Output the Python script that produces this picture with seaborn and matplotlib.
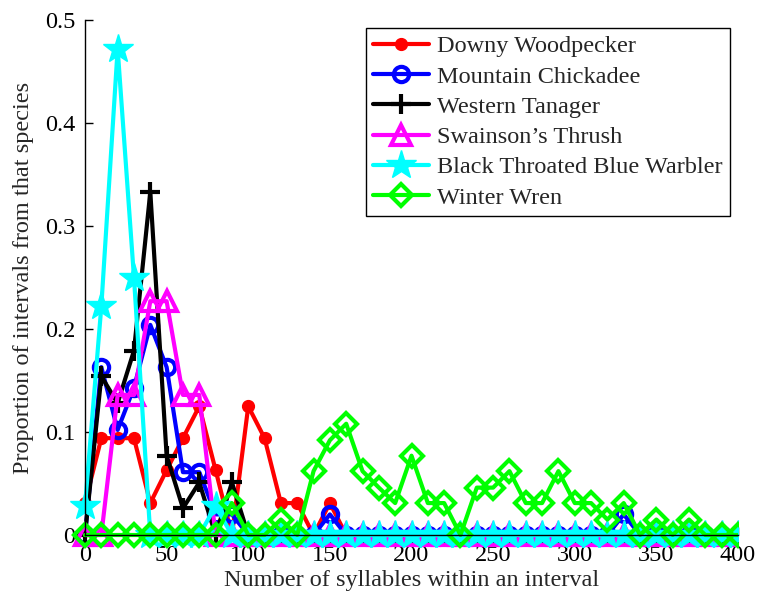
import numpy as np
import pandas as pd
import matplotlib
matplotlib.use("Agg")
import matplotlib.pyplot as plt
import seaborn as sns
from matplotlib.transforms import Bbox, TransformedBbox

# Number of syllables within an interval (bin starts)
syllables = list(range(0, 420, 10))

downy_woodpecker = [0.031, 0.094, 0.094, 0.094, 0.031, 0.063, 0.094, 0.125, 0.063, 0.000,
                    0.125, 0.094, 0.031, 0.031, 0.000, 0.031]
mountain_chickadee = [0.000, 0.163, 0.102, 0.143, 0.204, 0.163, 0.061, 0.061, 0.020, 0.020,
                      0.000, 0.000, 0.000, 0.000, 0.000, 0.020, 0.000, 0.000, 0.000, 0.000,
                      0.000, 0.000, 0.000, 0.000, 0.000, 0.000, 0.000, 0.000, 0.000, 0.000,
                      0.000, 0.000, 0.000, 0.020]
western_tanager = [0.000, 0.154, 0.128, 0.179, 0.333, 0.077, 0.026, 0.051, 0.000, 0.051]
swainsons_thrush = [0.000, 0.000, 0.136, 0.136, 0.227, 0.227, 0.136, 0.136]
bt_blue_warbler = [0.028, 0.222, 0.472, 0.250, 0.000, 0.000, 0.000, 0.000, 0.028]
winter_wren = [0.000, 0.000, 0.000, 0.000, 0.000, 0.000, 0.000, 0.000, 0.000, 0.031,
               0.000, 0.000, 0.015, 0.000, 0.062, 0.092, 0.108, 0.062, 0.046, 0.031,
               0.077, 0.031, 0.031, 0.000, 0.046, 0.046, 0.062, 0.031, 0.031, 0.062,
               0.031, 0.031, 0.015, 0.031, 0.000, 0.015, 0.000, 0.015]

species = ["Downy Woodpecker", "Mountain Chickadee", "Western Tanager",
           "Swainson\u2019s Thrush", "Black Throated Blue Warbler", "Winter Wren"]
series = [downy_woodpecker, mountain_chickadee, western_tanager,
          swainsons_thrush, bt_blue_warbler, winter_wren]

x_ticks = [0, 50, 100, 150, 200, 250, 300, 350, 400]
y_ticks = [0, 0.1, 0.2, 0.3, 0.4, 0.5]
y_tick_labels = ["0", "0.1", "0.2", "0.3", "0.4", "0.5"]


def padded(vals):
    return list(vals) + [0.0] * (len(syllables) - len(vals))


styles = [
    dict(color="#ff0000", marker="o", markersize=8.5, markerfacecolor="#ff0000",
         markeredgecolor="#ff0000", markeredgewidth=1),
    dict(color="#0000ff", marker="o", markersize=11, markerfacecolor="none",
         markeredgecolor="#0000ff", markeredgewidth=3),
    dict(color="#000000", marker="+", markersize=15, markerfacecolor="none",
         markeredgecolor="#000000", markeredgewidth=3),
    dict(color="#ff00ff", marker="^", markersize=14, markerfacecolor="none",
         markeredgecolor="#ff00ff", markeredgewidth=3),
    dict(color="#00ffff", marker="*", markersize=22, markerfacecolor="#00ffff",
         markeredgecolor="#00ffff", markeredgewidth=1),
    dict(color="#00ff00", marker="D", markersize=11, markerfacecolor="none",
         markeredgecolor="#00ff00", markeredgewidth=3),
]

sns.set_style("ticks")
plt.rcParams["font.family"] = ["Liberation Serif", "DejaVu Serif"]

fig = plt.figure(figsize=(7.57, 5.95), dpi=100)
ax = fig.add_axes([85 / 757, 1 - 535 / 595, (738 - 85) / 757, (535 - 20) / 595])

for name, vals, st in zip(species, series, styles):
    df = pd.DataFrame({"x": syllables, "y": padded(vals)})
    sns.lineplot(data=df, x="x", y="y", ax=ax, label=name, linewidth=3,
                 errorbar=None, **st)
    line = ax.lines[-1]
    line.set_clip_box(TransformedBbox(Bbox([[-30, -0.2], [400, 0.7]]), ax.transData))

ax.set_xlim(0, 400)
ax.set_ylim(0, 0.5)
ax.set_xticks(x_ticks)
ax.set_xticklabels([str(t) for t in x_ticks])
ax.set_yticks(y_ticks)
ax.set_yticklabels(y_tick_labels)
ax.tick_params(direction="in", length=6, width=1, labelsize=17.5, colors="black")
ax.tick_params(axis="y", pad=7)
ax.tick_params(axis="x", pad=7)
for s in ["top", "right"]:
    ax.spines[s].set_visible(False)
for s in ["left", "bottom"]:
    ax.spines[s].set_color("black")
    ax.spines[s].set_linewidth(1)

ax.set_xlabel("Number of syllables within an interval", fontsize=17.5, labelpad=3)
ax.set_ylabel("Proportion of intervals from that species", fontsize=17.5, labelpad=8)

leg = ax.legend(loc="upper right", bbox_to_anchor=(730 / 757, 1 - 28 / 595),
                bbox_transform=fig.transFigure, borderaxespad=0, fontsize=17.5,
                frameon=True, fancybox=False, framealpha=1, edgecolor="black",
                handlelength=2.3, handletextpad=0.35, labelspacing=0.34,
                borderpad=0.3)
leg.get_frame().set_linewidth(1)

fig.savefig("out.png", dpi=100)
